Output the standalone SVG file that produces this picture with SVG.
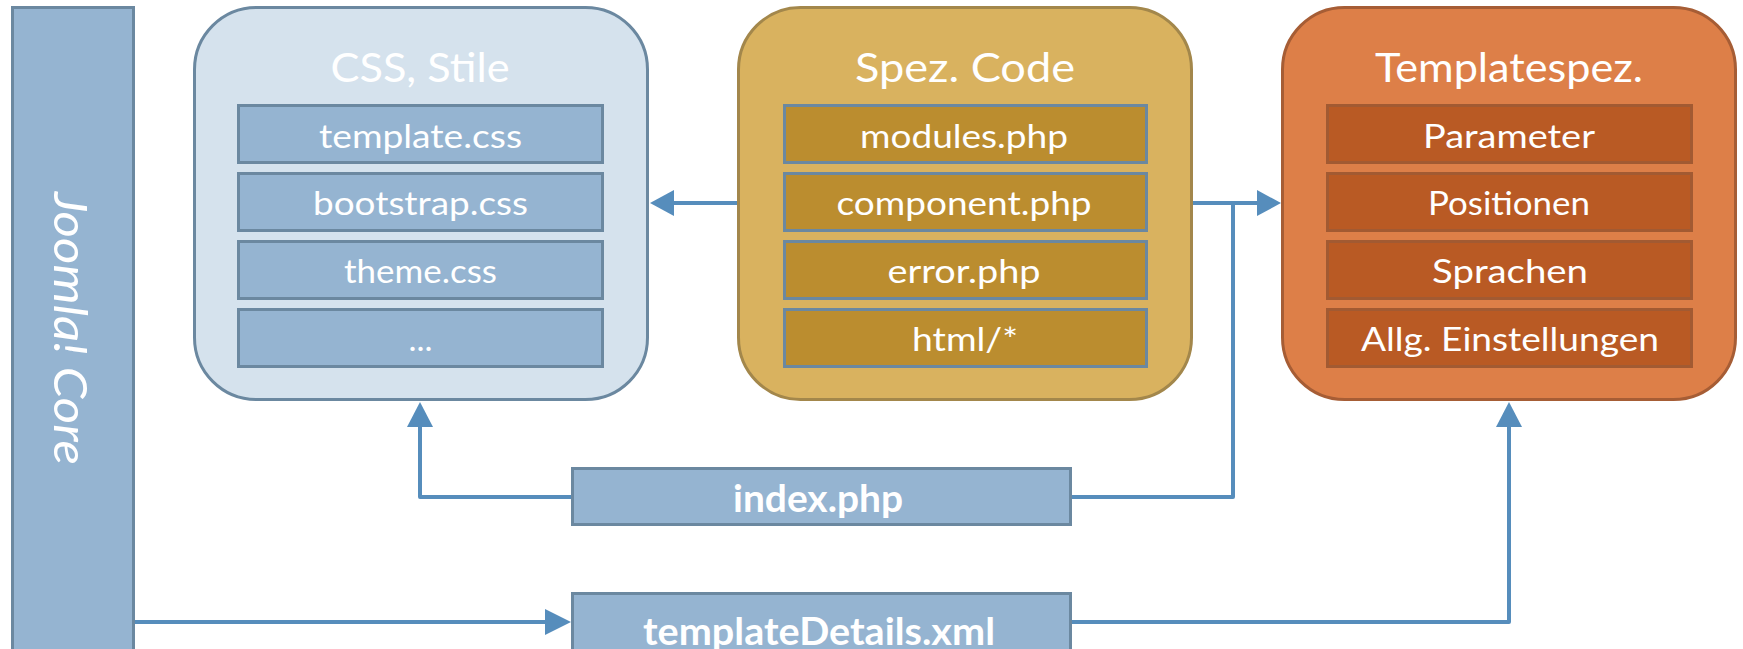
<svg xmlns="http://www.w3.org/2000/svg" width="1743" height="649" viewBox="0 0 1743 649">
<style>
text{font-family:Lato,"Open Sans","Liberation Sans",sans-serif;fill:#ffffff;text-anchor:middle}
.title{font-size:40px}
.item{font-size:32px}
.bold{font-size:38px;font-weight:bold}
.blue{fill:#95b4d1;stroke:#6b88a0;stroke-width:3}
.bigblue{fill:#d5e2ed;stroke:#6b88a0;stroke-width:3}
.gold{fill:#d9b25f;stroke:#a3874b;stroke-width:3}
.golditem{fill:#bb8d2f;stroke:#6b88a0;stroke-width:3}
.orange{fill:#dd7f48;stroke:#a65d35;stroke-width:3}
.orangeitem{fill:#b95a24;stroke:#a25a32;stroke-width:3}
.conn{fill:none;stroke:#568dbc;stroke-width:4;stroke-linejoin:round}
.head{fill:#568dbc}
</style>
<g id="joomla-core">
<rect class="blue" x="12.5" y="7.5" width="121" height="650"/>
<text transform="translate(54,328.5) rotate(90)" font-size="46" font-style="italic" textLength="273" lengthAdjust="spacingAndGlyphs">Joomla! Core</text>
</g>
<g id="css-stile">
<rect class="bigblue" x="194.5" y="7.5" width="453" height="392" rx="62"/>
<text class="title" x="420" y="82" textLength="179" lengthAdjust="spacingAndGlyphs">CSS, Stile</text>
<rect class="blue" x="238.5" y="105.5" width="364" height="57"/>
<rect class="blue" x="238.5" y="173.5" width="364" height="57"/>
<rect class="blue" x="238.5" y="241.5" width="364" height="57"/>
<rect class="blue" x="238.5" y="309.5" width="364" height="57"/>
<text class="item" x="420.5" y="148" textLength="203" lengthAdjust="spacingAndGlyphs">template.css</text>
<text class="item" x="420.5" y="215" textLength="215" lengthAdjust="spacingAndGlyphs">bootstrap.css</text>
<text class="item" x="420.5" y="283" textLength="153" lengthAdjust="spacingAndGlyphs">theme.css</text>
<text class="item" x="420.5" y="351" textLength="24" lengthAdjust="spacingAndGlyphs">...</text>
</g>
<g id="spez-code">
<rect class="gold" x="738.5" y="7.5" width="453" height="392" rx="62"/>
<text class="title" x="965" y="82" textLength="220" lengthAdjust="spacingAndGlyphs">Spez. Code</text>
<rect class="golditem" x="784.5" y="105.5" width="362" height="57"/>
<rect class="golditem" x="784.5" y="173.5" width="362" height="57"/>
<rect class="golditem" x="784.5" y="241.5" width="362" height="57"/>
<rect class="golditem" x="784.5" y="309.5" width="362" height="57"/>
<text class="item" x="964" y="148" textLength="208" lengthAdjust="spacingAndGlyphs">modules.php</text>
<text class="item" x="964" y="215" textLength="255" lengthAdjust="spacingAndGlyphs">component.php</text>
<text class="item" x="964" y="283" textLength="153" lengthAdjust="spacingAndGlyphs">error.php</text>
<text class="item" x="965" y="351" textLength="106" lengthAdjust="spacingAndGlyphs">html/*</text>
</g>
<g id="templatespez">
<rect class="orange" x="1282.5" y="7.5" width="453" height="392" rx="62"/>
<text class="title" x="1509" y="82" textLength="268" lengthAdjust="spacingAndGlyphs">Templatespez.</text>
<rect class="orangeitem" x="1327.5" y="105.5" width="364" height="57"/>
<rect class="orangeitem" x="1327.5" y="173.5" width="364" height="57"/>
<rect class="orangeitem" x="1327.5" y="241.5" width="364" height="57"/>
<rect class="orangeitem" x="1327.5" y="309.5" width="364" height="57"/>
<text class="item" x="1509" y="148" textLength="172" lengthAdjust="spacingAndGlyphs">Parameter</text>
<text class="item" x="1509" y="215" textLength="162" lengthAdjust="spacingAndGlyphs">Positionen</text>
<text class="item" x="1510" y="283" textLength="156" lengthAdjust="spacingAndGlyphs">Sprachen</text>
<text class="item" x="1510" y="351" textLength="298" lengthAdjust="spacingAndGlyphs">Allg. Einstellungen</text>
</g>
<g id="index-php">
<rect class="blue" x="572.5" y="468.5" width="498" height="56"/>
<text class="bold" x="818" y="512" textLength="170" lengthAdjust="spacingAndGlyphs">index.php</text>
</g>
<g id="templateDetails-xml">
<rect class="blue" x="572.5" y="593.5" width="498" height="62"/>
<text class="bold" x="819" y="645" textLength="352" lengthAdjust="spacingAndGlyphs">templateDetails.xml</text>
</g>
<g id="connectors">
<path class="conn" d="M737 203 H672"/>
<polygon class="head" points="650,203 674,190 674,216"/>
<path class="conn" d="M1193 203 H1259"/>
<polygon class="head" points="1281,203 1257,190 1257,216"/>
<path class="conn" d="M1072 497 H1233 V203"/>
<path class="conn" d="M571 497 H420 V425"/>
<polygon class="head" points="420,402 407,427 433,427"/>
<path class="conn" d="M135 622 H547"/>
<polygon class="head" points="571,622 545,609 545,635"/>
<path class="conn" d="M1072 622 H1509 V425"/>
<polygon class="head" points="1509,402 1496,427 1522,427"/>
</g>
</svg>
